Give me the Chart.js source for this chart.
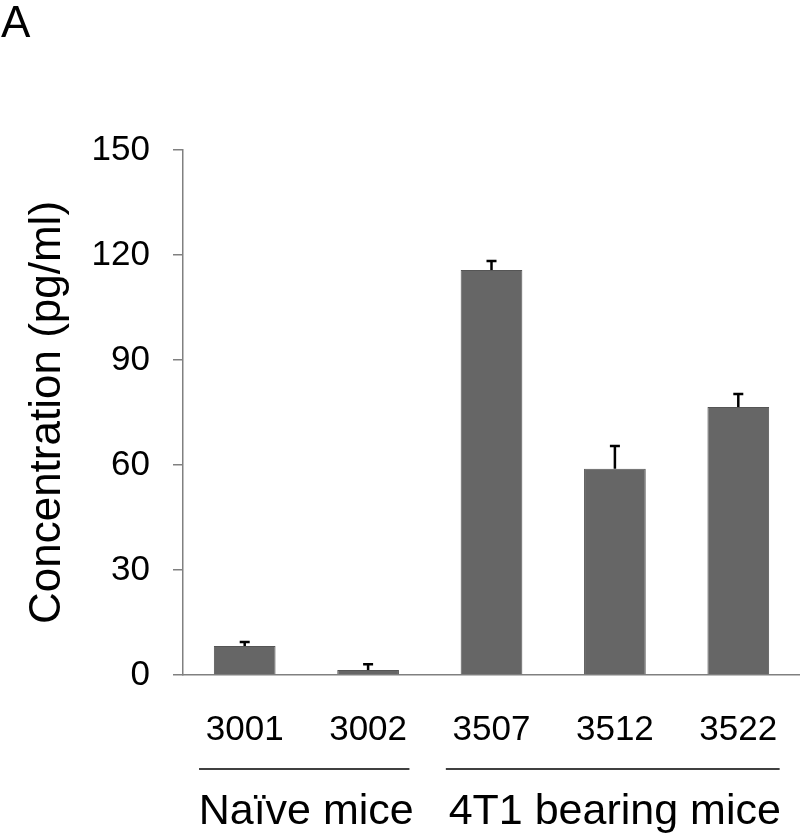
<!DOCTYPE html>
<html>
<head>
<meta charset="utf-8">
<script src="https://cdn.jsdelivr.net/npm/chart.js@4.4.0/dist/chart.umd.min.js"></script>
<style>
html,body{margin:0;padding:0;background:#fff;}
#wrap{width:800px;height:835px;position:relative;}
</style>
</head>
<body>
<div id="wrap"><canvas id="c"></canvas></div>
<script>
const categories = ["3001", "3002", "3507", "3512", "3522"];
const concentration = [8.3, 1.4, 115.7, 58.9, 76.6];
const errorUp = [1.1, 1.7, 2.6, 6.5, 3.7];
const yTicks = [0, 30, 60, 90, 120, 150];
const groupNames = ["Naïve mice", "4T1 bearing mice"];
const groupStart = [0, 2];
const groupEnd = [1, 4];
const panelLabel = "A";
const yTitle = "Concentration (pg/ml)";

const FONT = "'Liberation Sans', Arial, sans-serif";

const extras = {
  id: 'extras',
  afterDatasetsDraw(chart) {
    const ctx = chart.ctx, xs = chart.scales.x, ys = chart.scales.y;
    ctx.save();
    ctx.strokeStyle = '#000';
    ctx.lineWidth = 2.5;
    concentration.forEach((v, i) => {
      const x = xs.getPixelForValue(i);
      const y0 = ys.getPixelForValue(v);
      const y1 = ys.getPixelForValue(v + errorUp[i]);
      ctx.beginPath();
      ctx.moveTo(x, y0);
      ctx.lineTo(x, y1);
      ctx.moveTo(x - 5, y1);
      ctx.lineTo(x + 5, y1);
      ctx.stroke();
    });
    ctx.restore();
  },
  afterDraw(chart) {
    const ctx = chart.ctx, xs = chart.scales.x;
    const step = xs.getPixelForValue(1) - xs.getPixelForValue(0);
    ctx.save();
    ctx.strokeStyle = '#000';
    ctx.lineWidth = 1.5;
    ctx.fillStyle = '#000';
    ctx.font = "43px " + FONT;
    ctx.textAlign = 'center';
    ctx.textBaseline = 'alphabetic';
    groupNames.forEach((name, g) => {
      const l = xs.getPixelForValue(groupStart[g]) - 0.37 * step;
      const r = xs.getPixelForValue(groupEnd[g]) + 0.335 * step;
      ctx.beginPath();
      ctx.moveTo(l, 769);
      ctx.lineTo(r, 769);
      ctx.stroke();
      ctx.fillText(name, (l + r) / 2 + 2, 824);
    });
    ctx.textAlign = 'left';
    ctx.font = "44px " + FONT;
    ctx.fillText(panelLabel, 1, 37);
    ctx.restore();
  }
};

new Chart(document.getElementById('c'), {
  type: 'bar',
  data: {
    labels: categories,
    datasets: [{
      data: concentration,
      backgroundColor: '#666666',
      borderColor: '#555555',
      borderWidth: 1,
      categoryPercentage: 1.0,
      barPercentage: 0.5
    }]
  },
  options: {
    responsive: true,
    maintainAspectRatio: false,
    animation: false,
    layout: { padding: { top: 150, right: 0, left: 0, bottom: 0 } },
    plugins: { legend: { display: false }, tooltip: { enabled: false }, title: { display: false } },
    scales: {
      x: {
        grid: { display: false, drawTicks: false },
        border: { display: true, color: '#808080', width: 1.5 },
        ticks: { color: '#000', font: { family: FONT, size: 35 }, padding: 34, maxRotation: 0, autoSkip: false },
        afterFit(s) { s.height = 160; s.paddingLeft = 0; s.paddingRight = 0; }
      },
      y: {
        min: 0, max: 150,
        afterBuildTicks(s) { s.ticks = yTicks.map(v => ({ value: v })); },
        grid: { drawOnChartArea: false, drawTicks: true, tickLength: 10, color: '#808080', lineWidth: 1.5 },
        border: { display: true, color: '#808080', width: 1.5 },
        ticks: { color: '#000', font: { family: FONT, size: 35 }, padding: 23 },
        title: { display: true, text: yTitle, color: '#000', font: { family: FONT, size: 44, lineHeight: 1 }, padding: { top: 26, bottom: 0 } },
        afterFit(s) { s.width = 183; s.paddingTop = 0; s.paddingBottom = 0; }
      }
    }
  },
  plugins: [extras]
});
</script>
</body>
</html>
